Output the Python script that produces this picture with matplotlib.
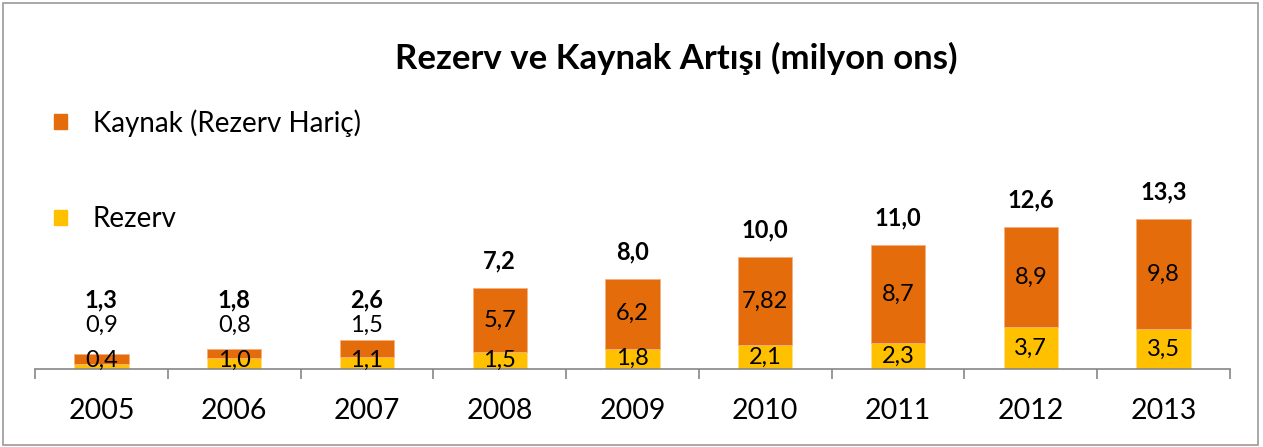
import numpy as np
import matplotlib.pyplot as plt
from matplotlib.patches import Patch, Rectangle

plt.rcParams['font.family'] = ['Lato', 'DejaVu Sans']

years = ['2005', '2006', '2007', '2008', '2009', '2010', '2011', '2012', '2013']
rezerv = [0.4, 1.0, 1.1, 1.5, 1.8, 2.1, 2.3, 3.7, 3.5]
kaynak = [0.9, 0.8, 1.5, 5.7, 6.2, 7.82, 8.7, 8.9, 9.8]
rezerv_lbl = ['0,4', '1,0', '1,1', '1,5', '1,8', '2,1', '2,3', '3,7', '3,5']
kaynak_lbl = ['0,9', '0,8', '1,5', '5,7', '6,2', '7,82', '8,7', '8,9', '9,8']
total_lbl = ['1,3', '1,8', '2,6', '7,2', '8,0', '10,0', '11,0', '12,6', '13,3']

orange = '#E46C0A'
yellow = '#FFC000'

fig = plt.figure(figsize=(12.63, 4.47), dpi=100)
ax = fig.add_axes([35/1263, 78/447, 1195/1263, 329/447])

x = np.arange(len(years))
r = np.array(rezerv)
k = np.array(kaynak)
tot = r + k

ax.bar(x, r, width=0.41, color=yellow, edgecolor='#FFE08A', linewidth=0.6)
ax.bar(x, k, bottom=r, width=0.41, color=orange, edgecolor='#F4B183', linewidth=0.6)

for i in range(len(x)):
    ax.text(x[i], max(r[i] / 2, 0.75), rezerv_lbl[i], ha='center', va='center', fontsize=17)
    if k[i] < 2:
        ky = 3.9
    else:
        ky = r[i] + k[i] / 2
    ax.text(x[i], ky, kaynak_lbl[i], ha='center', va='center', fontsize=17)
    ax.text(x[i], max(tot[i], 3.7) + 2.4, total_lbl[i], ha='center', va='center',
            fontsize=17, fontweight='bold')

ax.set_xlim(-0.5, len(years) - 0.5)
ax.set_ylim(0, 329 / 11.3)
ax.set_xticks(x)
ax.set_xticklabels(years, fontsize=20.5)
ax.set_xticks(np.arange(-0.5, len(years)), minor=True)
ax.tick_params(axis='x', which='major', length=0, pad=21)
ax.tick_params(axis='x', which='minor', length=7, color='#868686', width=1.2)
ax.set_yticks([])
for s in ['top', 'right', 'left']:
    ax.spines[s].set_visible(False)
ax.spines['bottom'].set_color('#868686')
ax.spines['bottom'].set_linewidth(1.2)

fig.text(676/1263, 1 - 58/447, 'Rezerv ve Kaynak Artışı (milyon ons)',
         ha='center', va='center', fontsize=25, fontweight='bold')

handles = [Patch(color=orange, label='Kaynak (Rezerv Hariç)'),
           Patch(color=yellow, label='Rezerv')]
fig.legend(handles=handles, loc='upper left', bbox_to_anchor=(29/1263, 1 - 84/447),
           frameon=False, fontsize=20, handlelength=0.45, handleheight=0.45,
           handletextpad=0.95, labelspacing=2.5)

fig.add_artist(Rectangle((0.002, 0.004), 0.994, 0.99, transform=fig.transFigure,
                         fill=False, edgecolor='#9A9A9A', linewidth=1.2))

fig.savefig('out.png', dpi=100)
